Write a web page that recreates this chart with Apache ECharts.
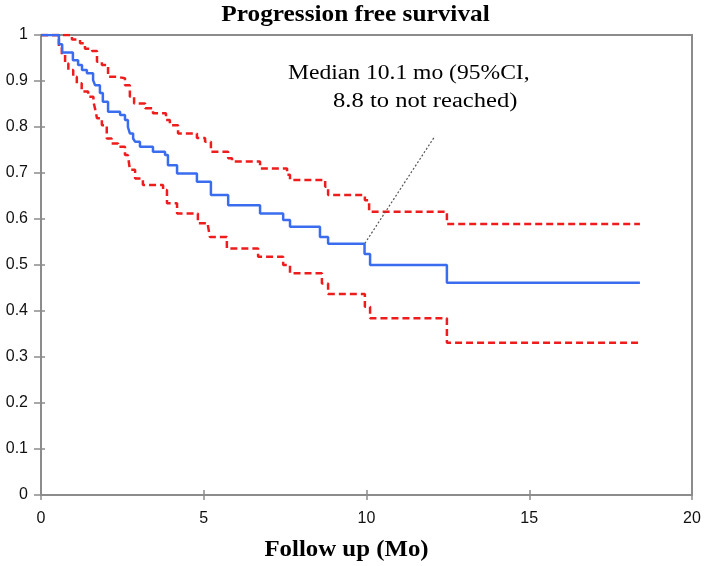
<!DOCTYPE html>
<html>
<head>
<meta charset="utf-8">
<script src="https://cdn.jsdelivr.net/npm/echarts@6/dist/echarts.min.js"></script>
<style>html,body{margin:0;padding:0;background:#fff}#c{width:709px;height:566px}</style>
</head>
<body>
<div id="c"></div>
<script>
// Kaplan-Meier estimate (months, survival probability)
var pfsTime = [0,0.55,0.65,0.98,1.14,1.26,1.41,1.6,1.66,1.81,1.9,2.06,2.43,2.58,2.67,2.73,2.83,2.89,3.04,3.44,3.81,3.9,4.18,4.79,5.22,5.75,6.73,7.44,7.65,8.57,8.82,9.94,10.11,12.47,18.4];
var pfsSurv = [1,0.98,0.962,0.945,0.935,0.924,0.917,0.902,0.891,0.874,0.855,0.833,0.826,0.815,0.80,0.786,0.775,0.768,0.757,0.746,0.739,0.717,0.699,0.681,0.652,0.63,0.612,0.598,0.583,0.561,0.546,0.524,0.50,0.4615,0.4615];
// Upper 95% CI
var upperTime = [0,0.95,1.2,1.35,1.57,1.72,1.87,2.06,2.34,2.58,2.73,2.86,3.2,3.44,3.84,3.96,4.21,4.79,5.04,5.22,5.75,5.87,6.73,7.56,7.65,8.73,8.82,9.95,10.08,12.47,18.4];
var upperSurv = [1,0.99,0.982,0.97,0.965,0.942,0.935,0.909,0.906,0.891,0.866,0.851,0.841,0.83,0.815,0.804,0.786,0.776,0.768,0.746,0.732,0.725,0.71,0.696,0.685,0.67,0.652,0.641,0.616,0.589,0.589];
// Lower 95% CI
var lowerTime = [0,0.55,0.64,0.74,0.84,0.99,1.1,1.25,1.45,1.61,1.66,1.72,1.87,2.02,2.17,2.37,2.58,2.67,2.73,2.89,3.13,3.75,3.87,4.18,4.82,5.13,5.19,5.71,6.67,7.44,7.65,8.63,8.82,9.95,10.11,12.47,18.4];
var lowerSurv = [1,0.975,0.957,0.938,0.924,0.909,0.895,0.877,0.866,0.855,0.84,0.819,0.804,0.775,0.764,0.757,0.739,0.735,0.707,0.688,0.674,0.663,0.634,0.612,0.591,0.585,0.561,0.536,0.518,0.5,0.482,0.46,0.437,0.409,0.384,0.331,0.331];
// Annotation pointer (data units)
var pointerFrom = [9.95, 0.547];
var pointerTo = [12.1, 0.78];
var titleText = 'Progression free survival';
var xAxisTitle = 'Follow up (Mo)';
var annotationLines = ['Median 10.1 mo (95%CI,', '8.8 to not reached)'];

function zip(a, b) { return a.map(function (x, i) { return [x, b[i]]; }); }

var chart = echarts.init(document.getElementById('c'), null, {renderer: 'canvas'});
var gridBox = {left: 41, right: 17, top: 35, bottom: 71};
var axisGray = '#8c8c8c';
var labelStyle = {color: '#111', fontFamily: 'Liberation Sans', fontSize: 16};

chart.setOption({
  animation: false,
  grid: Object.assign({show: true, borderColor: axisGray, borderWidth: 2, backgroundColor: '#fff'}, gridBox),
  xAxis: [{
    type: 'value', min: 0, max: 20, interval: 5,
    axisLine: {show: true, lineStyle: {color: axisGray, width: 2}},
    axisTick: {show: true, length: 5, lineStyle: {color: axisGray, width: 1.5}},
    axisLabel: Object.assign({margin: 16}, labelStyle),
    splitLine: {show: false}
  }, {
    type: 'value', min: 0, max: 20, interval: 5, position: 'bottom',
    axisLine: {show: false}, axisLabel: {show: false}, splitLine: {show: false},
    axisTick: {show: true, inside: true, length: 5, lineStyle: {color: axisGray, width: 1.5}}
  }],
  yAxis: [{
    type: 'value', min: 0, max: 1, interval: 0.1,
    axisLine: {show: true, lineStyle: {color: axisGray, width: 2}},
    axisTick: {show: true, length: 7, lineStyle: {color: axisGray, width: 1.5}},
    axisLabel: Object.assign({margin: 13}, labelStyle),
    splitLine: {show: false}
  }, {
    type: 'value', min: 0, max: 1, interval: 0.1, position: 'left',
    axisLine: {show: false}, axisLabel: {show: false}, splitLine: {show: false},
    axisTick: {show: true, inside: true, length: 4, lineStyle: {color: axisGray, width: 1.5}}
  }],
  series: [{
    type: 'line', name: 'Upper 95% CI', step: 'end', symbol: 'none',
    data: zip(upperTime, upperSurv),
    lineStyle: {color: '#ee1c1c', width: 2.5, type: [7, 4]}
  }, {
    type: 'line', name: 'Lower 95% CI', step: 'end', symbol: 'none',
    data: zip(lowerTime, lowerSurv),
    lineStyle: {color: '#ee1c1c', width: 2.5, type: [7, 4]}
  }, {
    type: 'line', name: 'PFS', step: 'end', symbol: 'none',
    data: zip(pfsTime, pfsSurv),
    lineStyle: {color: '#3a6cf0', width: 2.5},
    markLine: {
      silent: true, symbol: ['none', 'none'], label: {show: false},
      lineStyle: {color: '#555', width: 1.2, type: [2, 2]},
      data: [[{coord: pointerFrom}, {coord: pointerTo}]]
    }
  }],
  graphic: [{
    type: 'text', x: 355.5, y: 15, scaleX: 1.1,
    style: {text: titleText, font: 'bold 23px "Liberation Serif"', fill: '#000', align: 'center', verticalAlign: 'middle'}
  }, {
    type: 'text', x: 346.5, y: 550, scaleX: 1.08,
    style: {text: xAxisTitle, font: 'bold 23px "Liberation Serif"', fill: '#000', align: 'center', verticalAlign: 'middle'}
  }, {
    type: 'text', x: 288, y: 74, scaleX: 1.15,
    style: {text: annotationLines[0], font: '20.5px "Liberation Serif"', fill: '#000', align: 'left', verticalAlign: 'middle'}
  }, {
    type: 'text', x: 333, y: 102, scaleX: 1.2,
    style: {text: annotationLines[1], font: '20.5px "Liberation Serif"', fill: '#000', align: 'left', verticalAlign: 'middle'}
  }]
});
</script>
</body>
</html>
